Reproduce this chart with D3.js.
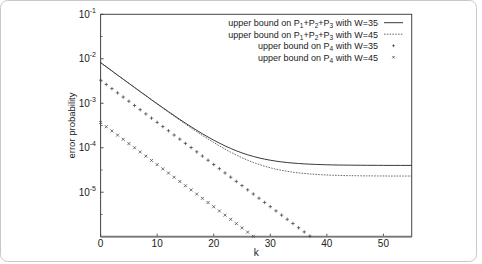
<!DOCTYPE html>
<html>
<head>
<meta charset="utf-8">
<script src="https://cdn.jsdelivr.net/npm/d3@7"></script>
<style>
  html, body { margin: 0; padding: 0; background: #fff; }
  svg { display: block; font-family: "Liberation Sans", Arial, sans-serif; }
</style>
</head>
<body>
<svg id="chart" width="482" height="264"></svg>
<script>
// ---- data ----
const kLine = d3.range(0, 56); // k = 0..55
const boundW35 = [8.20e-3, 6.61e-3, 5.33e-3, 4.30e-3, 3.47e-3, 2.81e-3, 2.27e-3, 1.83e-3, 1.49e-3, 1.20e-3,
  9.77e-4, 7.95e-4, 6.48e-4, 5.30e-4, 4.34e-4, 3.58e-4, 2.96e-4, 2.46e-4, 2.06e-4, 1.74e-4,
  1.48e-4, 1.27e-4, 1.10e-4, 9.63e-5, 8.53e-5, 7.65e-5, 6.94e-5, 6.37e-5, 5.91e-5, 5.54e-5,
  5.24e-5, 5.00e-5, 4.80e-5, 4.65e-5, 4.52e-5, 4.42e-5, 4.34e-5, 4.27e-5, 4.22e-5, 4.18e-5,
  4.14e-5, 4.11e-5, 4.09e-5, 4.07e-5, 4.06e-5, 4.05e-5, 4.04e-5, 4.03e-5, 4.03e-5, 4.02e-5,
  4.02e-5, 4.01e-5, 4.01e-5, 4.01e-5, 4.01e-5, 4.01e-5];
const boundW45 = [8.18e-3, 6.60e-3, 5.32e-3, 4.29e-3, 3.46e-3, 2.79e-3, 2.25e-3, 1.82e-3, 1.47e-3, 1.19e-3,
  9.60e-4, 7.78e-4, 6.31e-4, 5.13e-4, 4.17e-4, 3.41e-4, 2.79e-4, 2.29e-4, 1.89e-4, 1.57e-4,
  1.31e-4, 1.10e-4, 9.29e-5, 7.93e-5, 6.83e-5, 5.95e-5, 5.24e-5, 4.67e-5, 4.21e-5, 3.84e-5,
  3.54e-5, 3.30e-5, 3.10e-5, 2.95e-5, 2.82e-5, 2.72e-5, 2.64e-5, 2.57e-5, 2.52e-5, 2.48e-5,
  2.44e-5, 2.41e-5, 2.39e-5, 2.37e-5, 2.36e-5, 2.35e-5, 2.34e-5, 2.33e-5, 2.33e-5, 2.32e-5,
  2.32e-5, 2.31e-5, 2.31e-5, 2.31e-5, 2.31e-5, 2.31e-5];
const p4W35 = [3.30e-3, 2.65e-3, 2.13e-3, 1.71e-3, 1.38e-3, 1.11e-3, 8.91e-4, 7.16e-4, 5.76e-4, 4.63e-4,
  3.72e-4, 2.99e-4, 2.41e-4, 1.93e-4, 1.56e-4, 1.25e-4, 1.01e-4, 8.09e-5, 6.50e-5, 5.23e-5,
  4.20e-5, 3.38e-5, 2.71e-5, 2.18e-5, 1.75e-5, 1.41e-5, 1.13e-5, 9.11e-6, 7.33e-6, 5.89e-6,
  4.73e-6, 3.81e-6, 3.06e-6, 2.46e-6, 1.98e-6, 1.59e-6, 1.28e-6, 1.03e-6];
const p4W45 = [3.70e-4, 2.97e-4, 2.39e-4, 1.92e-4, 1.55e-4, 1.24e-4, 9.99e-5, 8.03e-5, 6.46e-5, 5.19e-5,
  4.17e-5, 3.35e-5, 2.70e-5, 2.17e-5, 1.74e-5, 1.40e-5, 1.13e-5, 9.07e-6, 7.29e-6, 5.86e-6,
  4.71e-6, 3.79e-6, 3.05e-6, 2.45e-6, 1.97e-6, 1.58e-6, 1.27e-6, 1.02e-6];
const xTicks = [0, 10, 20, 30, 40, 50];
const yTickExps = [-1, -2, -3, -4, -5];
const legendLabels = [
  ["upper bound on P", "1", "+P", "2", "+P", "3", " with W=35"],
  ["upper bound on P", "1", "+P", "2", "+P", "3", " with W=45"],
  ["upper bound on P", "4", " with W=35"],
  ["upper bound on P", "4", " with W=45"]
];
const xTitle = "k";
const yTitle = "error probability";

// ---- layout ----
const svg = d3.select("#chart");
const L = 100.6, R = 411.7, T = 14.3, B = 236.7;
const x = d3.scaleLinear().domain([0, 55]).range([L, R]);
const y = d3.scaleLog().domain([1e-6, 1e-1]).range([B, T]);
const ink = "#222";

// outer rounded frame
svg.append("rect").attr("x", 0.5).attr("y", 0.5).attr("width", 476).attr("height", 261)
  .attr("rx", 7).attr("fill", "none").attr("stroke", "#c8c8c8").attr("stroke-width", 1);

// ticks (inward)
const g = svg.append("g");
xTicks.forEach(t => {
  g.append("line").attr("x1", x(t)).attr("x2", x(t)).attr("y1", B).attr("y2", B - 3)
    .attr("stroke", "#555").attr("stroke-width", 1);
  g.append("text").attr("x", x(t)).attr("y", 247).attr("text-anchor", "middle")
    .attr("font-size", 10).attr("fill", ink).text(t);
});
yTickExps.forEach(e => {
  const yy = y(Math.pow(10, e));
  g.append("line").attr("x1", L).attr("x2", L + 3).attr("y1", yy).attr("y2", yy)
    .attr("stroke", "#555");
  const t = g.append("text").attr("x", 96).attr("y", yy + 3.5).attr("text-anchor", "end")
    .attr("font-size", 10).attr("fill", ink);
  t.append("tspan").text("10");
  t.append("tspan").attr("dy", -5).attr("font-size", 7).text(String(e));
});
// half-decade minor ticks
[-1.5, -2.5, -3.5, -4.5, -5.5].forEach(e => {
  const yy = y(Math.pow(10, e));
  g.append("line").attr("x1", L).attr("x2", L + 2).attr("y1", yy).attr("y2", yy).attr("stroke", "#777");
});

// plot border
svg.append("rect").attr("x", L).attr("y", T).attr("width", R - L).attr("height", B - T)
  .attr("fill", "none").attr("stroke", "#444").attr("stroke-width", 1);
svg.append("line").attr("x1", L).attr("x2", R).attr("y1", B).attr("y2", B)
  .attr("stroke", "#777").attr("stroke-width", 1.8);

// axis titles
svg.append("text").attr("x", x(27.5)).attr("y", 256).attr("text-anchor", "middle")
  .attr("font-size", 10).attr("fill", "#222").text(xTitle);
svg.append("text").attr("transform", `translate(75,${(T + B) / 2}) rotate(-90)`)
  .attr("text-anchor", "middle").attr("font-size", 9.5).attr("fill", ink).text(yTitle);

// lines
const line = d3.line().x((d, i) => x(kLine[i])).y(d => y(d));
svg.append("path").datum(boundW35).attr("d", line).attr("fill", "none")
  .attr("stroke", "#222").attr("stroke-width", 0.9);
svg.append("path").datum(boundW45).attr("d", line).attr("fill", "none")
  .attr("stroke", "#444").attr("stroke-width", 0.8).attr("stroke-dasharray", "1.6,1.2");

// markers
function plus(sel, cx, cy, s) {
  sel.append("path").attr("d", `M${cx - s},${cy}H${cx + s}M${cx},${cy - s}V${cy + s}`)
    .attr("stroke", "#444").attr("stroke-width", 0.75).attr("fill", "none");
}
function cross(sel, cx, cy, s) {
  sel.append("path").attr("d", `M${cx - s},${cy - s}L${cx + s},${cy + s}M${cx - s},${cy + s}L${cx + s},${cy - s}`)
    .attr("stroke", "#444").attr("stroke-width", 0.75).attr("fill", "none");
}
const mk = svg.append("g");
p4W35.forEach((v, i) => plus(mk, x(i), y(v), 1.7));
p4W45.forEach((v, i) => cross(mk, x(i), y(v), 1.5));

// legend
const rowsY = [22.7, 34.2, 45.7, 57.2];
const textRight = 378;
legendLabels.forEach((parts, r) => {
  const t = svg.append("text").attr("x", textRight).attr("y", rowsY[r] + 3.3)
    .attr("text-anchor", "end").attr("font-size", 9).attr("fill", ink);
  let sub = false;
  parts.forEach((p, j) => {
    const isSub = (j % 2 === 1);
    const ts = t.append("tspan").text(p);
    if (isSub) { ts.attr("font-size", 6.5).attr("dy", 2.3); sub = true; }
    else if (sub) { ts.attr("dy", -2.3); sub = false; }
  });
});
svg.append("line").attr("x1", 384).attr("x2", 403).attr("y1", rowsY[0]).attr("y2", rowsY[0])
  .attr("stroke", "#222").attr("stroke-width", 0.9);
svg.append("line").attr("x1", 384).attr("x2", 403).attr("y1", rowsY[1]).attr("y2", rowsY[1])
  .attr("stroke", "#444").attr("stroke-width", 0.8).attr("stroke-dasharray", "1.6,1.2");
plus(svg, 393.5, rowsY[2], 1.4);
cross(svg, 393.5, rowsY[3], 1.3);
</script>
</body>
</html>
